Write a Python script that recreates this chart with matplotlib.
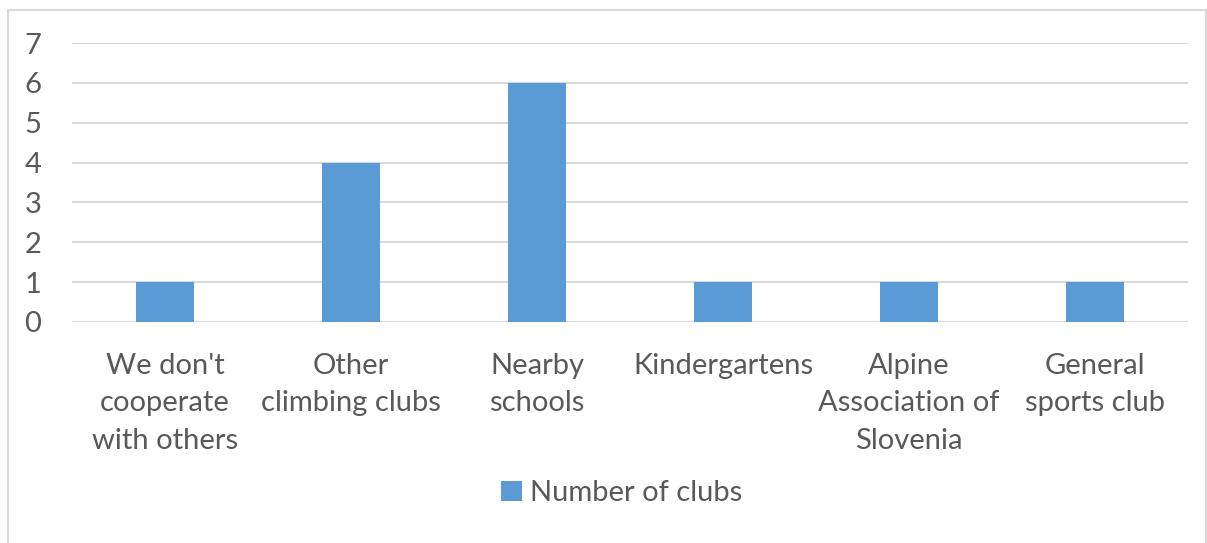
import matplotlib
matplotlib.use("Agg")
import matplotlib.pyplot as plt
from matplotlib.patches import Rectangle

categories = ["We don't\ncooperate\nwith others", "Other\nclimbing clubs", "Nearby\nschools",
              "Kindergartens", "Alpine\nAssociation of\nSlovenia", "General\nsports club"]
values = [1, 4, 6, 1, 1, 1]
series_name = "Number of clubs"
yticks = [0, 1, 2, 3, 4, 5, 6, 7]

W, H = 1207, 543
plt.rcParams['font.family'] = ['Lato', 'DejaVu Sans']
text_color = "#595959"
grid_color = "#d9d9d9"
bar_color = "#5b9bd5"
fs = 21

fig = plt.figure(figsize=(W/100, H/100), dpi=100)
fig.patches.append(Rectangle((8/W, -0.1), (W-8-1.5)/W, 1.1 - 10/H, transform=fig.transFigure,
                             fill=False, edgecolor=grid_color, linewidth=1.5))
ax = fig.add_axes([72/W, 1-322/H, (1188-72)/W, (322-43)/H])
x = list(range(len(categories)))
ax.bar(x, values, width=0.31, color=bar_color, label=series_name, zorder=3)
ax.set_xlim(-0.5, len(categories)-0.5)
ax.set_ylim(0, 7)
ax.set_yticks(yticks)
ax.set_yticklabels([str(t) for t in yticks], fontsize=fs, color=text_color)
ax.set_xticks(x)
ax.set_xticklabels(categories, fontsize=fs, color=text_color, linespacing=1.55, va='top')
ax.tick_params(axis='both', length=0)
ax.tick_params(axis='y', pad=22)
ax.tick_params(axis='x', pad=22)
for s in ax.spines.values():
    s.set_visible(False)
ax.yaxis.grid(True, color=grid_color, linewidth=1.5, zorder=0)
ax.set_axisbelow(True)
leg = fig.legend(loc='center', bbox_to_anchor=(622/W, 1-493/H), frameon=False, fontsize=fs,
                 handlelength=0.7, handleheight=0.7, handletextpad=0.3)
for t in leg.get_texts():
    t.set_color(text_color)
fig.savefig("out.png", dpi=100)
